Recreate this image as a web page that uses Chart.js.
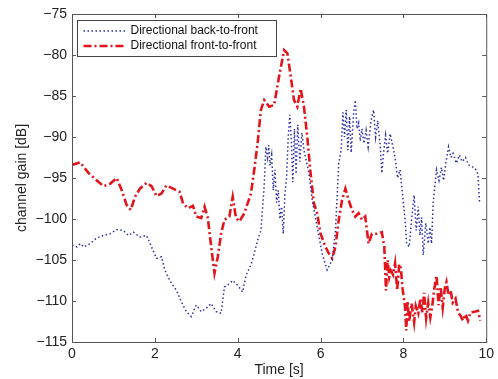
<!DOCTYPE html>
<html>
<head>
<meta charset="utf-8">
<script src="https://cdn.jsdelivr.net/npm/chart.js@4/dist/chart.umd.min.js"></script>
<style>
  html, body { margin: 0; padding: 0; background: #fff; }
  #wrap { width: 498px; height: 379px; }
</style>
</head>
<body>
<div id="wrap"><canvas id="chart" width="498" height="379"></canvas></div>
<script>
const context = document.getElementById("chart");

// directional back-to-front: time [s] and gain [dB]
const tBack = [0, 0.12, 0.2, 0.28, 0.44, 0.6, 0.76, 0.92, 1.08, 1.24, 1.36, 1.48, 1.64, 1.8,
  1.92, 2.04, 2.16, 2.24, 2.36, 2.52, 2.64, 2.76, 2.88, 3.0, 3.12, 3.24, 3.36, 3.48, 3.6,
  3.68, 3.8, 3.88, 4.0, 4.12, 4.2, 4.32, 4.4, 4.48, 4.56, 4.64, 4.68, 4.72, 4.75, 4.78,
  4.82, 4.86, 4.9, 4.94, 4.98, 5.02, 5.06, 5.1, 5.14, 5.18, 5.22, 5.26, 5.3, 5.33, 5.37,
  5.41, 5.45, 5.5, 5.55, 5.6, 5.66, 5.72, 5.8, 5.92, 6.04, 6.16, 6.28, 6.36, 6.44, 6.5,
  6.54, 6.58, 6.62, 6.66, 6.7, 6.74, 6.8, 6.84, 6.88, 6.92, 6.96, 7.0, 7.05, 7.1, 7.15,
  7.22, 7.28, 7.33, 7.38, 7.44, 7.48, 7.52, 7.57, 7.62, 7.68, 7.74, 7.8, 7.86, 7.92, 7.98,
  8.04, 8.08, 8.14, 8.2, 8.26, 8.31, 8.36, 8.4, 8.44, 8.48, 8.54, 8.6, 8.64, 8.68, 8.72,
  8.76, 8.8, 8.86, 8.92, 8.97, 9.03, 9.09, 9.15, 9.2, 9.28, 9.35, 9.42, 9.5, 9.57, 9.65,
  9.73, 9.8, 9.84];
const gainBack = [-103.2, -103.4, -103.0, -103.4, -103, -102.3, -102, -101.8, -101.3, -101.4,
  -102, -101.6, -102.2, -102, -103.4, -104.8, -104.6, -106.2, -107.5, -108.7, -110.1,
  -111.3, -111.9, -110.5, -111.3, -110.9, -110.3, -111.3, -111.5, -108.3, -107.9, -107.5,
  -108.1, -108.9, -106.9, -105.6, -104.2, -102.6, -101.4, -96, -91.2, -92.5, -91, -93.5,
  -92.2, -96.5, -94, -98, -96.5, -100, -98.5, -101.8, -97, -95, -90, -87.3, -91, -95.5,
  -89, -94.5, -88.5, -93, -89.5, -91.6, -93, -94.4, -97.7, -101, -104.2, -106.2, -105,
  -101.4, -93.2, -91.5, -87, -90, -86.7, -91.6, -87.5, -91.9, -87, -85.5, -89, -88.3,
  -90.5, -89, -90.8, -89.2, -91.2, -88, -86.7, -90, -88, -91, -94.4, -92, -89.8, -92,
  -89.6, -91, -92.5, -95, -94, -97, -100, -103, -103.4, -100, -97.1, -101.4, -98.5, -102,
  -99.8, -104.4, -100.5, -103, -101, -103, -98, -96, -94, -95.3, -93.7, -95.3, -93, -91.2,
  -92.5, -92, -93.2, -92.2, -93, -92.5, -93.4, -93.6, -93.8, -94.5, -98.1];

// directional front-to-front: time [s] and gain [dB]
const tFront = [0, 0.2, 0.4, 0.6, 0.76, 0.92, 1.08, 1.2, 1.32, 1.42, 1.52, 1.64, 1.8, 1.92,
  2.04, 2.16, 2.28, 2.44, 2.6, 2.68, 2.8, 2.92, 3.0, 3.12, 3.2, 3.28, 3.36, 3.44, 3.52, 3.6,
  3.68, 3.8, 3.88, 3.96, 4.04, 4.16, 4.24, 4.32, 4.4, 4.48, 4.56, 4.64, 4.76, 4.88, 5.0,
  5.12, 5.2, 5.28, 5.36, 5.44, 5.52, 5.6, 5.68, 5.76, 5.84, 5.92, 6.0, 6.12, 6.2, 6.28,
  6.36, 6.44, 6.52, 6.6, 6.68, 6.76, 6.84, 6.92, 7.0, 7.08, 7.16, 7.24, 7.36, 7.48, 7.54,
  7.58, 7.62, 7.66, 7.7, 7.75, 7.8, 7.85, 7.9, 7.94, 7.98, 8.04, 8.07, 8.1, 8.14, 8.2,
  8.26, 8.3, 8.36, 8.41, 8.46, 8.5, 8.55, 8.6, 8.65, 8.7, 8.74, 8.8, 8.85, 8.9, 8.95, 9.0,
  9.04, 9.09, 9.14, 9.19, 9.26, 9.32, 9.38, 9.44, 9.5, 9.56, 9.62, 9.72, 9.8, 9.86];
const gainFront = [-93.4, -93.1, -94.4, -95.3, -96, -95.7, -95, -96.5, -98.3, -98.9, -97.3,
  -96.3, -95.6, -96, -97.2, -96.9, -95.9, -96.3, -96.7, -98.1, -98.7, -98.4, -99.7, -99.9,
  -98.5, -99.9, -103.4, -106.6, -104.6, -101.8, -100.1, -99.7, -97.3, -99.9, -100.3, -99.3,
  -98.1, -96.9, -94, -90.8, -86.7, -85.5, -86.3, -86.1, -82.6, -79.4, -79.8, -82.6, -85.5,
  -86.3, -84.1, -86.3, -90, -94.4, -98.1, -99.3, -101.8, -103.4, -104.2, -104.8, -103.4,
  -100.1, -97.7, -96.3, -97.7, -98.9, -99.7, -99.3, -100.1, -99.7, -103, -101.8, -101.8,
  -101.6, -103.4, -108.7, -105, -107.1, -106.3, -106.8, -105.4, -108.7, -105.5, -106,
  -108.5, -110.7, -113.6, -110, -112.5, -110.3, -112.6, -110.6, -111.5, -109.7, -111.4,
  -109, -112.1, -110.2, -112, -110.5, -108.7, -106.9, -110.5, -108.3, -110.8, -108.5,
  -107.7, -109.3, -108.7, -110.2, -109.7, -111.4, -111.8, -112.4, -111.6, -112.4, -111.4,
  -111.3, -111.2, -112.4];

const xTicks = [0, 2, 4, 6, 8, 10];
const yTicks = [-75, -80, -85, -90, -95, -100, -105, -110, -115];

const seriesLabels = ["Directional back-to-front", "Directional front-to-front"];

const FONT = "'Liberation Sans', Arial, sans-serif";
const blue = "#2b2fa6";
const red = "#e3141c";
const backDash = [1.5, 2.5];
const frontDash = [8, 3, 2, 3];

function toPoints(t, g) {
  return t.map((x, i) => ({ x: x, y: g[i] }));
}

function minus(v) {
  return String(v).replace("-", "\u2212");
}

// matlab-like frame: box, inward ticks on all four sides, boxed legend
const framePlugin = {
  id: "frame",
  afterDatasetsDraw(chart) {
    const ctx = chart.ctx;
    const a = chart.chartArea;
    const xs = chart.scales.x;
    const ys = chart.scales.y;
    ctx.save();
    ctx.strokeStyle = "#555";
    ctx.lineWidth = 1;
    ctx.setLineDash([]);
    ctx.strokeRect(a.left + 0.5, a.top + 0.5, a.right - a.left, a.bottom - a.top);
    ctx.beginPath();
    xTicks.forEach((v) => {
      const px = Math.round(xs.getPixelForValue(v)) + 0.5;
      ctx.moveTo(px, a.bottom);
      ctx.lineTo(px, a.bottom - 4);
      ctx.moveTo(px, a.top);
      ctx.lineTo(px, a.top + 4);
    });
    yTicks.forEach((v) => {
      const py = Math.round(ys.getPixelForValue(v)) + 0.5;
      ctx.moveTo(a.left, py);
      ctx.lineTo(a.left + 4, py);
      ctx.moveTo(a.right, py);
      ctx.lineTo(a.right - 4, py);
    });
    ctx.stroke();

    // legend box
    const lx = a.left + 5.5, ly = a.top + 6.5, lw = 199, lh = 36;
    ctx.fillStyle = "#fff";
    ctx.fillRect(lx, ly, lw, lh);
    ctx.strokeStyle = "#444";
    ctx.strokeRect(lx, ly, lw, lh);
    const rows = [
      { color: blue, dash: backDash, width: 1.6 },
      { color: red, dash: frontDash, width: 2.6 },
    ];
    ctx.font = "12px " + FONT;
    ctx.textBaseline = "middle";
    rows.forEach((r, i) => {
      const y = ly + 10.5 + i * 15;
      ctx.beginPath();
      ctx.strokeStyle = r.color;
      ctx.lineWidth = r.width;
      ctx.setLineDash(r.dash);
      ctx.moveTo(lx + 6, y);
      ctx.lineTo(lx + 48, y);
      ctx.stroke();
      ctx.fillStyle = "#111";
      ctx.fillText(seriesLabels[i], lx + 53, y);
    });
    ctx.restore();
  },
};

const chart = new Chart(context, {
  type: "line",
  data: {
    datasets: [
      {
        label: seriesLabels[0],
        data: toPoints(tBack, gainBack),
        borderColor: blue,
        borderWidth: 1.5,
        borderDash: backDash,
        pointRadius: 0,
        tension: 0,
        fill: false,
      },
      {
        label: seriesLabels[1],
        data: toPoints(tFront, gainFront),
        borderColor: red,
        borderWidth: 2.6,
        borderDash: frontDash,
        pointRadius: 0,
        tension: 0,
        fill: false,
      },
    ],
  },
  options: {
    responsive: false,
    animation: false,
    layout: {
      padding: { top: 14, right: 10, left: 14, bottom: 0 },
    },
    scales: {
      x: {
        type: "linear",
        min: 0,
        max: 10,
        afterFit: (scale) => { scale.height = 37; },
        afterBuildTicks: (scale) => { scale.ticks = xTicks.map((v) => ({ value: v })); },
        grid: { display: false, drawTicks: false },
        border: { display: false },
        ticks: {
          padding: 4,
          color: "#222",
          maxRotation: 0,
          font: { family: FONT, size: 14 },
        },
        title: {
          display: true,
          text: "Time [s]",
          color: "#222",
          padding: { top: 0, bottom: 0 },
          font: { family: FONT, size: 14 },
        },
      },
      y: {
        type: "linear",
        min: -115,
        max: -75,
        afterFit: (scale) => { scale.width = 58; },
        afterBuildTicks: (scale) => { scale.ticks = yTicks.map((v) => ({ value: v })); },
        grid: { display: false, drawTicks: false },
        border: { display: false },
        ticks: {
          padding: 5,
          color: "#222",
          font: { family: FONT, size: 14 },
          callback: (v) => minus(v),
        },
        title: {
          display: true,
          text: "channel gain [dB]",
          color: "#222",
          padding: { top: 0, bottom: 0 },
          font: { family: FONT, size: 14 },
        },
      },
    },
    plugins: {
      legend: { display: false },
      tooltip: { enabled: false },
    },
  },
  plugins: [framePlugin],
});
</script>
</body>
</html>
